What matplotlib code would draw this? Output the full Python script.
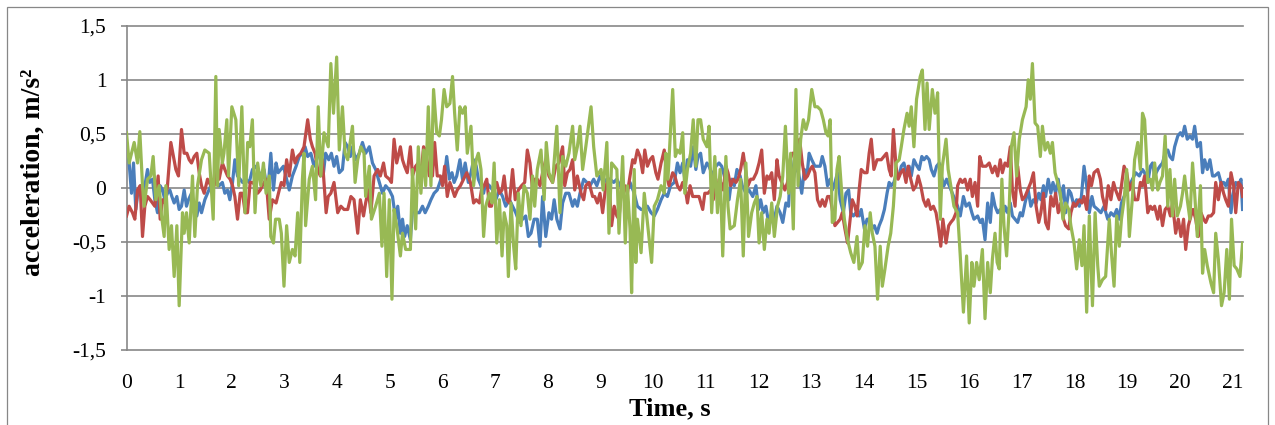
import matplotlib
matplotlib.use("Agg")
import matplotlib.pyplot as plt
from matplotlib.patches import Rectangle

# ---------------- data ----------------
t_blue = [0, 0.05, 0.095, 0.133, 0.177, 0.22, 0.27, 0.335, 0.399, 0.443, 0.494, 0.538, 0.589, 0.639, 0.684, 0.728, 0.778, 0.823, 0.861, 0.905, 0.956, 1.0, 1.044, 1.095, 1.139, 1.177, 1.234, 1.285, 1.335, 1.38, 1.424, 1.487, 1.538, 1.601, 1.665, 1.715, 1.759, 1.82, 1.867, 1.918, 1.962, 2.013, 2.057, 2.108, 2.158, 2.203, 2.266, 2.33, 2.392, 2.456,
          2.49, 2.55, 2.61, 2.68, 2.74, 2.79, 2.84, 2.88, 2.93, 2.98, 3.04, 3.09, 3.15, 3.22, 3.28, 3.34, 3.39, 3.44, 3.50, 3.56, 3.63, 3.69, 3.74, 3.78, 3.84, 3.89, 3.94, 3.99, 4.04, 4.10, 4.15, 4.20, 4.25, 4.29, 4.35, 4.42, 4.48, 4.54, 4.61, 4.67, 4.73, 4.80, 4.86, 4.92, 4.99, 5.05, 5.11,
          5.15, 5.20, 5.24, 5.28, 5.33, 5.39, 5.43, 5.49, 5.56, 5.62, 5.67, 5.73, 5.78, 5.84, 5.90, 5.97, 6.03, 6.08, 6.13, 6.18, 6.22, 6.27, 6.33, 6.38, 6.43, 6.49, 6.54, 6.59, 6.64, 6.68, 6.73, 6.78, 6.82, 6.89, 6.95, 7.01, 7.08, 7.14, 7.20, 7.27, 7.33, 7.39, 7.46, 7.52, 7.58, 7.63, 7.68, 7.74,
          7.80, 7.85, 7.90, 7.96, 8.02, 8.07, 8.12, 8.17, 8.23, 8.28, 8.34, 8.40, 8.47, 8.51, 8.56, 8.61, 8.68, 8.74, 8.80, 8.87, 8.93, 8.99, 9.06, 9.12, 9.18, 9.25, 9.31, 9.37, 9.44, 9.50, 9.56, 9.64, 9.70, 9.77, 9.83, 9.89, 9.96, 10.02, 10.08, 10.15, 10.21, 10.27, 10.33, 10.40,
          10.46, 10.51, 10.56, 10.60, 10.65, 10.71, 10.76, 10.81, 10.85, 10.90, 10.95, 11.02, 11.06, 11.13, 11.19, 11.25, 11.30, 11.35, 11.40, 11.44, 11.49, 11.54, 11.59, 11.65, 11.69, 11.76, 11.82, 11.89, 11.95, 12.00, 12.04, 12.09, 12.14, 12.20, 12.25, 12.30, 12.35, 12.41, 12.46, 12.52, 12.57, 12.61, 12.66, 12.71, 12.76, 12.82, 12.87, 12.92, 12.96, 13.01, 13.07,
          13.12, 13.17, 13.21, 13.26, 13.31, 13.36, 13.40, 13.45, 13.50, 13.55, 13.61, 13.66, 13.71, 13.75, 13.80, 13.85, 13.91, 13.95, 14.01, 14.06, 14.10, 14.15, 14.20, 14.25, 14.29, 14.34, 14.39, 14.44, 14.48, 14.52, 14.57, 14.62, 14.67, 14.71, 14.76, 14.82, 14.86, 14.90, 14.95, 15.01, 15.05, 15.10, 15.14, 15.19, 15.24, 15.28, 15.33, 15.38, 15.43, 15.47, 15.52, 15.57, 15.62, 15.68, 15.73,
          15.78, 15.83, 15.89, 15.94, 16.00, 16.05, 16.09, 16.16, 16.21, 16.25, 16.30, 16.35, 16.40, 16.44, 16.49, 16.54, 16.59, 16.63, 16.68, 16.73, 16.78, 16.82, 16.87, 16.92, 16.97, 17.01, 17.06, 17.12, 17.17, 17.22, 17.27, 17.32, 17.36, 17.41, 17.45, 17.50, 17.55, 17.59, 17.64, 17.69, 17.74, 17.79, 17.83, 17.89, 17.93, 17.99, 18.04, 18.09, 18.13, 18.18, 18.23, 18.28, 18.33, 18.37,
          18.44, 18.50, 18.56, 18.63, 18.69, 18.75, 18.80, 18.85, 18.89, 18.94, 18.99, 19.04, 19.10, 19.16, 19.23, 19.29, 19.33, 19.39, 19.44, 19.48, 19.52, 19.58, 19.62, 19.67, 19.72, 19.77, 19.81, 19.86, 19.90, 19.96, 20.01, 20.05, 20.09, 20.14, 20.19, 20.24, 20.28, 20.33, 20.39, 20.43, 20.47, 20.52, 20.57, 20.62, 20.66, 20.73, 20.78, 20.83, 20.87, 20.92, 20.97, 21.01, 21.06, 21.11, 21.16, 21.19]
a_blue = [0.35, 0.23, -0.05, 0.23, -0.20, -0.02, 0.02, -0.02, 0.17, 0.05, 0.08, -0.11, -0.23, 0.02, -0.02, -0.11, -0.05, -0.02, -0.08, -0.14, -0.08, -0.20, -0.17, -0.02, -0.17, -0.11, -0.05, -0.17, -0.26, -0.14, -0.23, -0.11, -0.05, 0.02, 0.08, 0.05, 0.02, 0.05, -0.05, -0.02, -0.11, 0.05, 0.26, 0.11, 0.08, 0.05, 0.08, 0.05, 0.17, 0.20,
          0.17, 0.11, 0.17, -0.05, 0.32, -0.02, 0.23, 0.14, 0.17, 0.20, 0.08, -0.02, 0.11, 0.20, 0.29, 0.32, 0.38, 0.29, 0.32, 0.20, 0.29, 0.32, 0.14, 0.32, 0.26, 0.32, 0.20, 0.29, 0.14, 0.17, 0.42, 0.38, 0.29, 0.38, 0.26, 0.32, 0.42, 0.32, 0.38, 0.23, 0.17, 0.05, -0.05, 0.02, -0.02, -0.08, -0.29,
          -0.17, -0.42, -0.29, -0.45, -0.35, -0.48, -0.20, -0.23, -0.23, -0.17, -0.23, -0.17, -0.11, -0.05, -0.02, 0.08, 0.08, 0.29, 0.08, 0.14, 0.05, 0.11, 0.26, 0.08, 0.23, 0.05, 0.14, 0.26, 0.20, 0.08, 0.02, -0.05, 0.05, 0.02, -0.02, -0.11, -0.02, -0.08, -0.17, -0.11, -0.17, -0.23, -0.32, -0.29, -0.26, -0.45, -0.42, -0.29,
          -0.29, -0.54, -0.08, -0.45, -0.23, -0.29, -0.11, -0.29, -0.38, -0.14, -0.05, -0.05, -0.17, -0.11, -0.17, -0.05, 0.08, 0.05, 0.02, 0.08, 0.02, 0.11, 0.05, 0.08, 0.08, 0.05, 0.08, 0.02, 0.02, -0.02, 0.05, -0.05, -0.17, -0.20, -0.20, -0.17, -0.23, -0.26, -0.20, -0.11, -0.05, -0.08, 0.02, 0.05,
          0.23, 0.14, 0.23, 0.08, 0.26, 0.20, 0.38, 0.17, 0.29, 0.32, 0.14, 0.23, 0.20, 0.11, 0.20, 0.23, 0.20, 0.11, -0.02, -0.11, 0.08, 0.02, 0.17, 0.11, 0.02, -0.05, -0.02, -0.08, 0.02, -0.20, -0.11, -0.23, -0.17, -0.35, -0.26, -0.29, -0.17, -0.23, -0.32, -0.14, -0.17, 0.26, 0.08, 0.20, 0.14, -0.05, 0.17, 0.11, 0.32, 0.26, 0.20,
          0.20, 0.20, 0.29, 0.20, 0.02, 0.08, -0.02, 0.05, 0.14, -0.11, -0.23, -0.05, -0.02, -0.23, -0.26, -0.23, -0.26, -0.20, -0.38, -0.29, -0.29, -0.38, -0.35, -0.42, -0.35, -0.29, -0.20, -0.05, 0.05, 0.02, 0.05, 0.14, 0.11, 0.20, 0.23, 0.11, 0.20, 0.11, 0.26, 0.20, 0.17, 0.29, 0.26, 0.29, 0.26, 0.17, 0.11, 0.20, 0.23, 0.11, 0.02, 0.08, 0.02, -0.05, -0.11,
          -0.17, -0.26, -0.08, -0.17, -0.14, -0.23, -0.29, -0.26, -0.32, -0.29, -0.48, -0.14, -0.32, -0.05, -0.17, -0.23, -0.20, -0.29, -0.17, -0.23, -0.14, -0.26, -0.29, -0.32, -0.23, -0.26, -0.14, -0.02, -0.17, -0.11, -0.14, -0.05, -0.11, 0.02, -0.08, 0.08, -0.05, 0.05, -0.05, 0.08, -0.11, 0.02, -0.23, -0.02, -0.05, -0.17, -0.11, -0.17, -0.08, 0.20, 0.02, -0.23, -0.08, -0.17,
          -0.20, -0.23, -0.17, -0.29, -0.23, -0.26, -0.20, -0.29, -0.14, -0.08, -0.05, 0.02, 0.08, 0.14, 0.11, 0.17, 0.14, 0.05, 0.20, 0.23, 0.11, 0.17, 0.20, 0.23, 0.32, 0.35, 0.29, 0.26, 0.38, 0.48, 0.51, 0.48, 0.57, 0.45, 0.48, 0.45, 0.57, 0.38, 0.42, 0.14, 0.26, 0.17, 0.26, 0.11, 0.11, 0.14, 0.05, 0.05, 0.02, 0.08, -0.23, -0.05, 0.05, 0.02, 0.08, -0.20]

t_red = [0, 0.05, 0.114, 0.158, 0.209, 0.259, 0.304, 0.348, 0.399, 0.449, 0.494, 0.538, 0.601, 0.639, 0.684, 0.728, 0.778, 0.842, 0.892, 0.937, 0.987, 1.044, 1.095, 1.146, 1.19, 1.234, 1.285, 1.335, 1.38, 1.424, 1.475, 1.538, 1.601, 1.665, 1.715, 1.759, 1.82, 1.867, 1.918, 1.968, 2.013, 2.057, 2.108, 2.158, 2.203, 2.253, 2.297, 2.348, 2.392, 2.456,
         2.49, 2.54, 2.58, 2.65, 2.71, 2.77, 2.84, 2.90, 2.94, 2.99, 3.04, 3.09, 3.15, 3.20, 3.25, 3.31, 3.37, 3.44, 3.49, 3.53, 3.58, 3.63, 3.68, 3.72, 3.79, 3.83, 3.88, 3.94, 4.01, 4.07, 4.13, 4.20, 4.26, 4.32, 4.39, 4.44, 4.50, 4.54, 4.59, 4.64, 4.70, 4.77, 4.82, 4.88, 4.92, 4.99, 5.03, 5.08, 5.13,
         5.20, 5.24, 5.28, 5.33, 5.39, 5.43, 5.49, 5.54, 5.59, 5.64, 5.68, 5.75, 5.81, 5.85, 5.90, 5.96, 6.00, 6.04, 6.09, 6.14, 6.19, 6.23, 6.28, 6.34, 6.40, 6.46, 6.53, 6.59, 6.64, 6.70, 6.74, 6.79, 6.84, 6.89, 6.93, 6.98, 7.03, 7.08, 7.13, 7.17, 7.22, 7.27, 7.33, 7.38, 7.44, 7.50, 7.56, 7.61, 7.66, 7.71, 7.75,
         7.80, 7.85, 7.90, 7.96, 8.02, 8.09, 8.15, 8.21, 8.28, 8.32, 8.37, 8.42, 8.47, 8.51, 8.56, 8.63, 8.68, 8.72, 8.78, 8.85, 8.89, 8.94, 8.99, 9.04, 9.10, 9.16, 9.21, 9.26, 9.31, 9.35, 9.40, 9.46, 9.51, 9.56, 9.61, 9.65, 9.70, 9.75, 9.80, 9.84, 9.89, 9.94, 9.99, 10.05, 10.09, 10.15, 10.21, 10.26, 10.30, 10.37, 10.41,
         10.46, 10.51, 10.56, 10.60, 10.65, 10.70, 10.75, 10.81, 10.87, 10.94, 10.98, 11.04, 11.09, 11.14, 11.19, 11.23, 11.28, 11.33, 11.38, 11.42, 11.47, 11.52, 11.57, 11.61, 11.66, 11.71, 11.76, 11.80, 11.85, 11.90, 11.96, 12.01, 12.06, 12.11, 12.16, 12.20, 12.25, 12.30, 12.35, 12.39, 12.44, 12.50, 12.55, 12.60, 12.64, 12.69, 12.74, 12.78, 12.83, 12.88, 12.93, 12.98, 13.02, 13.07,
         13.12, 13.17, 13.21, 13.26, 13.31, 13.36, 13.40, 13.45, 13.50, 13.55, 13.59, 13.64, 13.69, 13.74, 13.78, 13.83, 13.87, 13.91, 13.95, 14.01, 14.06, 14.10, 14.14, 14.19, 14.25, 14.29, 14.33, 14.38, 14.43, 14.48, 14.52, 14.56, 14.61, 14.65, 14.70, 14.75, 14.80, 14.84, 14.89, 14.94, 14.99, 15.03, 15.08, 15.13, 15.18, 15.22, 15.27, 15.32, 15.37, 15.41, 15.46, 15.50, 15.56, 15.61, 15.65, 15.70, 15.75,
         15.78, 15.83, 15.87, 15.92, 15.97, 16.02, 16.06, 16.11, 16.16, 16.20, 16.25, 16.32, 16.38, 16.44, 16.49, 16.54, 16.59, 16.63, 16.68, 16.73, 16.78, 16.82, 16.87, 16.92, 16.97, 17.01, 17.06, 17.11, 17.17, 17.22, 17.27, 17.32, 17.36, 17.41, 17.45, 17.50, 17.55, 17.60, 17.64, 17.69, 17.74, 17.79, 17.83, 17.89, 17.93, 17.98, 18.02, 18.09, 18.14, 18.18, 18.23, 18.28, 18.32, 18.37,
         18.44, 18.49, 18.53, 18.59, 18.64, 18.69, 18.74, 18.78, 18.85, 18.89, 18.94, 18.99, 19.04, 19.10, 19.14, 19.20, 19.25, 19.29, 19.33, 19.39, 19.44, 19.48, 19.52, 19.58, 19.62, 19.67, 19.72, 19.77, 19.82, 19.86, 19.92, 19.97, 20.02, 20.07, 20.11, 20.16, 20.21, 20.25, 20.30, 20.35, 20.40, 20.45, 20.49, 20.54, 20.59, 20.64, 20.68, 20.73, 20.78, 20.83, 20.87, 20.92, 20.97, 21.02, 21.06, 21.11, 21.16, 21.19]
a_red = [-0.26, -0.17, -0.23, -0.29, -0.02, 0.02, -0.45, -0.17, -0.08, -0.11, -0.14, -0.17, 0.11, -0.29, -0.11, -0.14, 0.02, 0.42, 0.29, 0.17, 0.11, 0.54, 0.32, 0.32, 0.26, 0.23, 0.29, 0.32, 0.14, 0.02, -0.05, 0.08, 0.02, 0.02, 0.23, 0.08, 0.23, 0.17, 0.11, 0.08, 0.02, -0.08, -0.29, -0.05, -0.05, -0.23, -0.23, 0.05, 0.05, 0.02,
         -0.05, -0.02, 0.02, 0.08, -0.29, -0.11, -0.14, -0.02, 0.05, 0.02, 0.26, 0.11, 0.35, 0.23, 0.29, 0.32, 0.38, 0.63, 0.45, 0.38, 0.32, 0.17, 0.11, 0.26, -0.23, -0.08, -0.05, 0.05, -0.23, -0.17, -0.20, -0.20, -0.08, -0.11, -0.42, -0.11, -0.26, -0.14, -0.02, -0.23, 0.11, 0.17, 0.11, 0.23, 0.11, 0.08, 0.05, 0.45, 0.23,
         0.38, 0.26, 0.20, 0.14, 0.38, 0.11, 0.20, 0.23, 0.11, 0.38, 0.35, 0.11, 0.11, 0.42, 0.11, 0.11, 0.02, 0.20, -0.08, 0.05, -0.02, -0.08, -0.02, 0.02, 0.08, 0.14, 0.05, -0.14, -0.11, -0.14, -0.02, 0.02, 0.08, -0.17, -0.17, -0.02, 0.05, -0.05, -0.02, 0.11, -0.11, -0.14, 0.17, -0.11, -0.02, 0.02, 0.05, 0.35, 0.23, -0.02, 0.08,
         0.08, 0.02, 0.14, 0.26, 0.11, 0.05, 0.20, 0.23, 0.38, 0.02, 0.14, 0.17, 0.26, -0.02, 0.11, -0.05, -0.11, 0.02, 0.05, -0.08, -0.08, -0.14, -0.05, -0.23, 0.02, 0.08, -0.35, -0.17, -0.26, -0.29, 0.02, 0.02, -0.05, 0.11, 0.26, 0.23, 0.35, 0.29, 0.14, 0.35, 0.20, 0.26, 0.29, 0.14, 0.08, 0.23, 0.35, 0.11, 0.02, 0.14, 0.11,
         0.02, -0.02, 0.05, 0.02, -0.14, 0.02, -0.08, -0.08, -0.08, -0.20, -0.05, -0.05, -0.02, -0.11, 0.08, -0.08, 0.05, -0.02, 0.20, 0.14, 0.02, 0.08, 0.05, 0.08, 0.17, 0.32, 0.14, 0.02, 0.08, 0.08, 0.14, 0.23, 0.35, -0.05, 0.11, 0.08, 0.14, -0.11, 0.26, 0.11, 0.05, -0.02, 0.05, 0.26, 0.32, 0.32, 0.29, 0.45, 0.23, 0.08, 0.11, 0.17, 0.20, 0.14,
         -0.11, -0.17, -0.11, -0.17, -0.08, -0.08, -0.20, -0.35, -0.32, -0.29, -0.23, -0.38, -0.51, -0.29, -0.11, -0.17, -0.26, -0.02, 0.17, 0.14, 0.14, 0.32, 0.45, 0.17, 0.26, 0.26, 0.26, 0.29, 0.32, 0.17, 0.11, 0.54, 0.20, 0.08, 0.14, 0.17, 0.05, 0.20, 0.08, -0.02, 0.02, 0.11, 0.02, -0.11, -0.17, -0.11, -0.20, -0.17, -0.23, -0.35, -0.54, -0.29, -0.51, -0.35, -0.32, -0.29, -0.23,
         0.02, 0.08, 0.05, 0.08, -0.02, 0.08, -0.08, 0.05, -0.17, 0.29, 0.20, 0.20, 0.23, 0.14, 0.20, 0.11, 0.26, 0.14, 0.23, 0.20, 0.38, -0.02, -0.17, 0.20, -0.02, -0.11, -0.08, -0.02, 0.05, 0.14, -0.17, -0.32, -0.23, -0.05, -0.32, -0.38, -0.08, -0.17, -0.05, -0.23, -0.14, -0.29, -0.35, -0.38, -0.23, -0.14, -0.17, -0.11, -0.14, -0.08, -0.20, 0.11, 0.02, 0.14,
         0.17, 0.08, -0.08, -0.20, 0.02, -0.11, 0.05, -0.02, -0.11, 0.02, 0.20, 0.14, -0.02, 0.05, -0.11, -0.11, 0.05, 0.02, 0.11, -0.23, -0.17, -0.20, -0.17, -0.29, -0.17, -0.35, -0.20, -0.17, -0.26, -0.14, -0.42, -0.29, -0.45, -0.29, -0.57, -0.35, -0.26, -0.20, -0.29, -0.45, -0.23, -0.29, -0.32, -0.26, -0.26, -0.23, 0.05, -0.11, 0.05, -0.05, -0.11, -0.17, 0.14, 0.02, -0.23, 0.05, 0.02, -0.08]

t_green = [0, 0.05, 0.146, 0.209, 0.253, 0.304, 0.335, 0.399, 0.462, 0.506, 0.557, 0.62, 0.665, 0.715, 0.747, 0.81, 0.854, 0.905, 0.956, 1.0, 1.063, 1.095, 1.139, 1.19, 1.253, 1.297, 1.348, 1.424, 1.487, 1.57, 1.646, 1.696, 1.728, 1.759, 1.82, 1.85, 1.905, 1.937, 2.0, 2.076, 2.13, 2.19, 2.25, 2.30, 2.34, 2.39, 2.44,
           2.49, 2.55, 2.60, 2.65, 2.71, 2.74, 2.79, 2.83, 2.90, 2.94, 2.99, 3.04, 3.09, 3.15, 3.20, 3.25, 3.29, 3.34, 3.37, 3.40, 3.47, 3.53, 3.59, 3.64, 3.69, 3.75, 3.83, 3.88, 3.93, 3.99, 4.04, 4.10, 4.15, 4.20, 4.29, 4.34, 4.39, 4.45, 4.51, 4.54, 4.61, 4.65, 4.73, 4.80, 4.85, 4.89, 4.94, 4.99, 5.04, 5.08, 5.13,
           5.20, 5.24, 5.30, 5.39, 5.43, 5.49, 5.54, 5.59, 5.64, 5.68, 5.73, 5.78, 5.83, 5.89, 5.94, 5.98, 6.03, 6.08, 6.14, 6.19, 6.23, 6.28, 6.33, 6.38, 6.43, 6.47, 6.54, 6.59, 6.64, 6.68, 6.73, 6.78, 6.82, 6.89, 6.94, 6.98, 7.03, 7.08, 7.13, 7.17, 7.22, 7.25, 7.30, 7.35, 7.39, 7.44, 7.49, 7.55, 7.61, 7.66, 7.71, 7.75,
           7.80, 7.87, 7.93, 7.97, 8.02, 8.09, 8.17, 8.23, 8.28, 8.34, 8.40, 8.47, 8.51, 8.56, 8.61, 8.66, 8.72, 8.82, 8.87, 8.93, 9.01, 9.05, 9.12, 9.16, 9.21, 9.26, 9.31, 9.35, 9.42, 9.47, 9.51, 9.56, 9.59, 9.64, 9.67, 9.70, 9.77, 9.83, 9.89, 9.97, 10.02, 10.08, 10.15, 10.21, 10.24, 10.28, 10.34, 10.37, 10.42,
           10.46, 10.51, 10.56, 10.60, 10.65, 10.71, 10.76, 10.81, 10.85, 10.90, 10.95, 11.02, 11.06, 11.11, 11.17, 11.22, 11.27, 11.32, 11.38, 11.42, 11.46, 11.54, 11.60, 11.66, 11.71, 11.76, 11.81, 11.87, 11.92, 11.97, 12.01, 12.06, 12.11, 12.16, 12.20, 12.25, 12.30, 12.36, 12.41, 12.46, 12.51, 12.57, 12.61, 12.66, 12.71, 12.75, 12.80, 12.85, 12.90, 12.95, 13.01, 13.07,
           13.12, 13.18, 13.23, 13.28, 13.32, 13.36, 13.40, 13.45, 13.49, 13.53, 13.58, 13.63, 13.69, 13.75, 13.81, 13.87, 13.91, 13.97, 14.02, 14.07, 14.12, 14.16, 14.21, 14.26, 14.31, 14.35, 14.40, 14.46, 14.51, 14.56, 14.61, 14.67, 14.71, 14.76, 14.82, 14.86, 14.90, 14.95, 15.00, 15.07, 15.11, 15.16, 15.20, 15.24, 15.30, 15.35, 15.40, 15.45, 15.49, 15.56, 15.60, 15.65, 15.71,
           15.78, 15.83, 15.89, 15.95, 16.00, 16.05, 16.09, 16.14, 16.19, 16.25, 16.30, 16.35, 16.40, 16.44, 16.49, 16.53, 16.57, 16.62, 16.66, 16.71, 16.76, 16.80, 16.85, 16.90, 16.95, 17.01, 17.08, 17.12, 17.16, 17.20, 17.25, 17.30, 17.35, 17.39, 17.44, 17.49, 17.54, 17.58, 17.63, 17.68, 17.73, 17.78, 17.83, 17.89, 17.93, 17.99, 18.04, 18.09, 18.14, 18.18, 18.23, 18.28, 18.34, 18.39,
           18.44, 18.47, 18.53, 18.59, 18.66, 18.70, 18.75, 18.80, 18.85, 18.89, 18.94, 18.99, 19.04, 19.10, 19.14, 19.20, 19.25, 19.29, 19.33, 19.39, 19.44, 19.48, 19.52, 19.58, 19.62, 19.67, 19.72, 19.77, 19.81, 19.86, 19.90, 19.95, 20.01, 20.05, 20.09, 20.14, 20.19, 20.24, 20.28, 20.33, 20.39, 20.43, 20.47, 20.52, 20.59, 20.64, 20.68, 20.73, 20.79, 20.84, 20.89, 20.94, 20.98, 21.03, 21.08, 21.14, 21.19]
a_green = [0.51, 0.23, 0.42, 0.23, 0.52, 0.02, -0.17, 0.08, 0.11, 0.29, -0.11, 0.02, -0.26, -0.45, 0.02, -0.57, -0.35, -0.82, -0.35, -1.09, -0.23, -0.42, -0.23, -0.51, 0.11, -0.45, 0.02, 0.26, 0.35, 0.32, -0.29, 1.03, 0.02, 0.54, 0.23, 0.32, 0.63, 0.11, 0.75, 0.63, 0.02, 0.75, -0.23, 0.42, 0.38, 0.63, -0.23,
           0.23, 0.02, 0.23, -0.05, 0.11, -0.45, -0.51, -0.29, -0.29, -0.42, -0.91, -0.35, -0.69, -0.57, -0.63, -0.23, -0.69, 0.08, 0.32, -0.35, 0.08, 0.20, -0.11, 0.75, 0.11, 0.51, 0.38, 1.15, 0.69, 1.21, 0.35, 0.75, 0.32, 0.26, 0.57, 0.05, 0.26, 0.38, 0.32, -0.08, 0.20, -0.29, -0.17, -0.05, -0.54, -0.05, -0.82, -0.11, -1.03, -0.20, -0.35,
           -0.63, -0.42, -0.57, -0.57, 0.17, -0.38, 0.38, -0.05, 0.35, 0.02, 0.75, 0.02, 0.91, 0.51, 0.48, 0.63, 0.91, 0.75, 0.78, 1.03, 0.69, 0.35, 0.75, 0.69, 0.75, 0.32, 0.57, 0.02, 0.26, 0.32, 0.17, -0.45, -0.17, -0.05, -0.14, 0.23, -0.51, -0.11, -0.63, -0.23, -0.35, -0.82, -0.14, -0.54, -0.75, -0.05, -0.35, 0.02, -0.05, -0.29, 0.11, -0.17,
           0.17, 0.35, -0.11, 0.42, 0.14, 0.05, 0.57, -0.23, 0.29, 0.20, 0.32, 0.57, 0.26, 0.38, 0.57, 0.17, 0.38, 0.75, 0.38, 0.11, 0.17, -0.02, 0.42, -0.42, 0.23, 0.20, 0.17, -0.42, 0.29, -0.51, 0.02, -0.38, -0.97, 0.17, -0.69, -0.29, -0.60, -0.05, -0.32, -0.69, -0.17, -0.11, 0.02, -0.05, 0.32, 0.08, 0.63, 0.91, 0.29,
           0.35, 0.32, 0.51, -0.05, 0.17, 0.32, 0.63, 0.20, 0.63, 0.63, 0.45, 0.38, 0.57, -0.23, 0.29, -0.23, 0.17, -0.63, 0.29, -0.17, -0.38, -0.35, -0.11, 0.08, -0.63, 0.23, -0.45, -0.23, -0.14, -0.08, -0.51, -0.23, -0.57, -0.29, -0.42, -0.14, -0.45, -0.17, -0.08, 0.11, 0.57, -0.05, 0.32, -0.38, 0.91, 0.02, 0.45, 0.63, 0.54, 0.63, 0.91, 0.75,
           0.75, 0.72, 0.63, 0.51, 0.48, 0.63, -0.32, -0.29, 0.17, 0.29, -0.05, -0.29, -0.48, -0.60, -0.69, -0.45, -0.75, -0.69, -0.35, -0.54, -0.23, -0.42, -0.54, -1.03, -0.54, -0.91, -0.75, -0.54, -0.42, -0.17, 0.23, 0.26, 0.38, 0.54, 0.69, 0.57, 0.75, 0.38, 0.82, 1.03, 1.09, 0.54, 0.97, 0.54, 0.91, 0.69, 0.88, -0.29, 0.20, 0.45, 0.17, 0.02, -0.17,
           -0.23, -0.63, -1.15, -0.63, -1.25, -0.69, -0.91, -0.69, -0.85, -0.57, -1.21, -0.69, -0.97, -0.66, -0.42, -0.69, -0.75, 0.08, -0.35, -0.63, -0.17, 0.38, 0.51, 0.11, 0.45, 0.63, 0.75, 1.00, 0.82, 1.15, 0.60, 0.57, 0.29, 0.57, 0.35, 0.42, 0.32, 0.42, 0.14, 0.05, -0.05, -0.29, -0.14, -0.20, -0.35, -0.51, -0.75, -0.48, -0.72, -0.35, -1.15, -0.26, -1.09, -0.23,
           -0.72, -0.91, -0.85, -0.82, -0.29, -0.60, -0.91, -0.26, -0.54, -0.29, -0.11, 0.17, -0.45, -0.08, 0.26, 0.42, 0.17, 0.69, 0.63, 0.05, 0.08, -0.02, 0.23, -0.02, 0.05, 0.11, 0.48, -0.17, 0.17, -0.26, 0.08, -0.26, -0.17, -0.05, 0.11, -0.11, -0.29, 0.23, -0.05, -0.45, 0.02, -0.79, -0.57, -0.72, -0.88, -0.97, -0.42, -0.66, -1.09, -0.97, -0.57, -1.03, -0.29, -0.72, -0.75, -0.82, -0.51]

y_ticks = [-1.5, -1.0, -0.5, 0.0, 0.5, 1.0, 1.5]
y_tick_labels = ["-1,5", "-1", "-0,5", "0", "0,5", "1", "1,5"]
x_ticks = list(range(0, 22))
x_tick_labels = [str(v) for v in x_ticks]
x_label = "Time, s"
y_label = "acceleration, m/s\u00b2"

# ---------------- styling ----------------
W, H = 1275, 425
GRID = "#878787"
C_BLUE = "#4A7EBB"
C_RED = "#BE4B48"
C_GREEN = "#98B954"
SERIF = ["Liberation Serif", "DejaVu Serif"]
plt.rcParams["font.family"] = SERIF

fig = plt.figure(figsize=(W / 100, H / 100), dpi=100)
left_px, right_px, top_px, bottom_px = 126.5, 1243, 25.7, 350
ax = fig.add_axes([left_px / W, 1 - bottom_px / H,
                   (right_px - left_px) / W, (bottom_px - top_px) / H])
px_per_s = 52.67
ax.set_xlim(0, (right_px - left_px) / px_per_s)
ax.set_ylim(-1.5, 1.5)

for y in y_ticks:
    ax.axhline(y, color=GRID, lw=1.2, zorder=1, clip_on=False)

lw = 2.3
ax.plot(t_blue, a_blue, color=C_BLUE, lw=lw, zorder=3, solid_joinstyle="round")
ax.plot(t_red, a_red, color=C_RED, lw=lw, zorder=4, solid_joinstyle="round")
ax.plot(t_green, a_green, color=C_GREEN, lw=lw, zorder=5, solid_joinstyle="round")

for s in ["top", "right", "bottom"]:
    ax.spines[s].set_visible(False)
ax.spines["left"].set_color(GRID)
ax.spines["left"].set_linewidth(1.2)
ax.spines["left"].set_zorder(2)

ax.set_yticks(y_ticks)
ax.set_yticklabels(y_tick_labels)
ax.set_xticks(x_ticks)
ax.set_xticklabels(x_tick_labels)
ax.tick_params(axis="y", direction="out", length=4.5, width=1.2, color=GRID,
               pad=10, labelsize=15.5)
ax.tick_params(axis="x", length=0, pad=17, labelsize=15.5)

fig.text(670 / W, 1 - 415 / H, x_label, ha="center", va="baseline",
         fontsize=19, fontweight="bold")
fig.text(33 / W, 1 - 172 / H, y_label, ha="center", va="center",
         rotation=90, fontsize=20, fontweight="bold")

fig.patches.append(Rectangle((7 / W, -0.05), (1268 - 7) / W, 1 - 7 / H + 0.05,
                             transform=fig.transFigure, fill=False,
                             edgecolor=GRID, lw=0.9))

fig.savefig("out.png", dpi=100)
